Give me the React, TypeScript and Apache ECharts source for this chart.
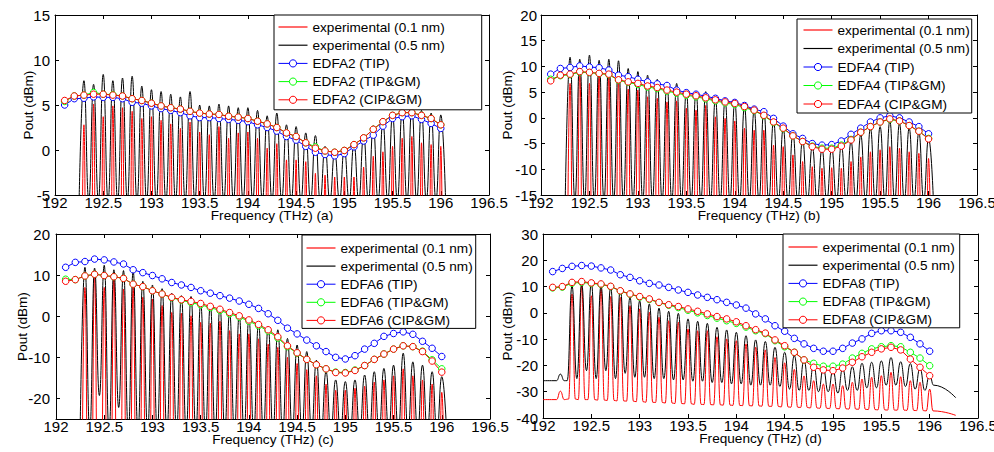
import React, { useEffect, useRef } from 'react';
import * as echarts from 'echarts';

const FONT = "'Liberation Sans', Arial, Helvetica, sans-serif";

// ---------- shared axes / categories ----------
const MODEL_FREQ = [
  192.1, 192.2, 192.3, 192.4, 192.5, 192.6, 192.7, 192.8, 192.9, 193.0,
  193.1, 193.2, 193.3, 193.4, 193.5, 193.6, 193.7, 193.8, 193.9, 194.0,
  194.1, 194.2, 194.3, 194.4, 194.5, 194.6, 194.7, 194.8, 194.9, 195.0,
  195.1, 195.2, 195.3, 195.4, 195.5, 195.6, 195.7, 195.8, 195.9, 196.0,
];
const CHANNEL_FREQ = MODEL_FREQ.slice(2); // 192.3 .. 196.0 (38 channels)
const X_MIN = 192;
const X_MAX = 196.5;
const X_STEP = 0.5;

const EXP01 = 'experimental (0.1 nm)';
const EXP05 = 'experimental (0.5 nm)';

// ---------- panel (a) EDFA2 ----------
const A_Y_TICKS = [-5, 0, 5, 10, 15];
const A_TIP = [5.0, 5.7, 5.75, 5.9, 5.85, 5.85, 5.7, 5.3, 5.2, 4.9, 4.6, 4.4, 4.15, 3.8, 3.6, 3.6, 3.5, 3.4, 3.3, 3.15, 2.8, 2.5, 2.1, 1.5, 1.1, 0.4, -0.25, -0.5, -0.65, -0.4, 0.35, 1.0, 1.65, 2.65, 3.5, 3.7, 3.8, 3.4, 2.95, 2.4];
const A_TIPGM = [5.4, 6.0, 6.1, 6.4, 6.2, 6.15, 6.0, 5.7, 5.5, 5.2, 4.9, 4.7, 4.55, 4.3, 4.1, 4.0, 3.95, 3.75, 3.65, 3.5, 3.2, 2.9, 2.5, 1.9, 1.5, 0.8, 0.35, -0.1, -0.25, -0.05, 0.6, 1.35, 2.3, 3.15, 3.85, 4.15, 4.15, 3.85, 3.5, 2.8];
const A_CIPGM = [5.5, 6.0, 6.1, 6.2, 6.2, 6.1, 6.0, 5.7, 5.5, 5.2, 4.9, 4.7, 4.55, 4.3, 4.1, 4.0, 3.95, 3.75, 3.65, 3.5, 3.2, 2.9, 2.5, 1.9, 1.5, 0.8, 0.2, -0.1, -0.25, -0.05, 0.6, 1.35, 2.3, 3.15, 3.85, 4.15, 4.15, 3.85, 3.5, 2.8];
const A_BLACK_PEAKS = [7.7, 7.3, 8.4, 7.7, 8.0, 8.2, 7.1, 6.7, 6.5, 6.2, 5.9, 6.5, 5.0, 4.9, 5.1, 4.9, 4.7, 4.7, 4.4, 3.8, 4.1, 2.8, 2.6, 1.9, 1.6, 0.4, -0.2, 0.2, 0.7, 1.7, 2.7, 3.1, 3.9, 4.4, 4.6, 4.4, 4.1, 3.9];
const A_BLACK_TROUGH = -5.6;
const A_RED_PEAKS = [2.8, 5.1, 3.7, 4.9, 4.7, 4.3, 3.5, 3.7, 3.3, 2.9, 2.4, 3.1, 2.0, 1.7, 2.6, 1.3, 1.9, 2.0, 1.3, 0.2, 0.7, -1.1, -1.1, -1.3, -2.6, -2.8, -3.0, -3.0, -3.0, -1.9, -0.7, -0.2, 0.4, 1.3, 1.5, 0.8, 0.6, 0.4];
const A_RED_FLOOR = -40;

// ---------- panel (b) EDFA4 ----------
const B_Y_TICKS = [-15, -10, -5, 0, 5, 10, 15, 20];
const B_TIP = [8.5, 9.6, 9.8, 10.1, 9.9, 9.75, 9.3, 8.3, 8.0, 7.5, 7.0, 6.6, 6.3, 5.4, 4.9, 4.6, 4.2, 3.8, 3.3, 3.0, 2.4, 1.7, 1.2, -0.1, -1.6, -3.1, -4.0, -5.0, -5.3, -5.2, -4.5, -3.2, -2.0, -0.8, 0.0, 0.4, 0.0, -0.8, -1.7, -3.1];
const B_TIPGM = [7.5, 8.2, 8.4, 8.9, 8.8, 8.6, 8.4, 7.3, 6.9, 6.5, 6.0, 5.7, 5.2, 4.8, 4.4, 4.1, 3.7, 3.3, 2.9, 2.6, 2.0, 1.4, 0.4, -0.9, -2.1, -3.5, -4.6, -5.5, -5.9, -5.9, -5.3, -4.2, -2.8, -1.7, -0.8, -0.3, -0.6, -1.5, -2.6, -4.0];
const B_CIPGM = [7.2, 8.3, 8.5, 9.0, 8.85, 8.65, 8.5, 7.4, 7.0, 6.7, 6.2, 5.9, 5.4, 5.0, 4.6, 4.3, 3.9, 3.5, 3.1, 2.8, 2.2, 1.5, 0.5, -0.8, -2.0, -3.5, -4.6, -5.6, -6.1, -6.1, -5.5, -4.3, -2.8, -1.7, -0.8, -0.2, -0.6, -1.5, -2.6, -4.1];
const B_BLACK_PEAKS = [11.8, 11.4, 12.2, 11.2, 11.4, 11.1, 9.6, 9.0, 8.3, 7.5, 6.9, 6.7, 5.2, 5.2, 5.1, 3.8, 3.5, 3.1, 2.2, 1.5, 1.5, -0.6, -2.0, -3.0, -4.3, -5.6, -6.1, -5.8, -5.3, -4.6, -3.3, -2.0, -1.7, -0.6, -1.1, -2.0, -2.8, -4.0];
const B_BLACK_TROUGH = -16;
const B_RED_PEAKS = [6.7, 9.3, 6.7, 9.0, 8.6, 7.0, 5.6, 5.4, 4.1, 3.8, 3.1, 3.3, 1.9, 1.5, 2.4, 0.2, -0.1, -0.6, -2.0, -2.4, -2.4, -5.3, -5.6, -7.2, -8.5, -9.5, -9.8, -9.7, -9.8, -8.5, -7.6, -6.6, -6.2, -5.6, -5.9, -6.6, -6.9, -7.9];
const B_RED_FLOOR = -48;

// ---------- panel (c) EDFA6 ----------
const C_Y_TICKS = [-20, -10, 0, 10, 20];
const C_TIP = [11.9, 13.1, 13.3, 13.9, 13.7, 13.2, 12.7, 11.3, 10.6, 9.9, 9.1, 8.2, 7.6, 7.0, 6.2, 5.6, 5.0, 4.4, 3.7, 2.9, 1.9, 0.6, -1.0, -2.9, -4.3, -5.8, -7.2, -8.6, -10.0, -10.4, -9.6, -8.0, -6.6, -4.9, -4.2, -3.8, -4.4, -6.1, -7.8, -9.8];
const C_TIPGM = [9.0, 8.9, 9.8, 10.2, 9.9, 9.6, 9.2, 7.8, 7.2, 6.2, 5.4, 4.5, 3.9, 3.3, 2.8, 2.1, 1.4, 0.6, -0.2, -1.2, -2.3, -3.6, -5.3, -7.4, -9.0, -10.5, -11.8, -12.8, -13.6, -13.7, -13.1, -12.0, -10.5, -9.2, -8.0, -7.2, -7.4, -8.5, -10.6, -12.8];
const C_CIPGM = [8.5, 8.9, 9.8, 10.2, 9.9, 9.6, 9.2, 7.8, 7.2, 6.2, 5.4, 4.6, 4.0, 3.6, 3.1, 2.4, 1.7, 0.9, 0.1, -0.9, -2.0, -3.3, -5.0, -7.2, -8.9, -10.5, -11.8, -12.8, -13.7, -13.8, -13.2, -12.0, -10.5, -9.2, -8.0, -7.2, -7.4, -8.6, -10.9, -13.6];
const C_BLACK_PEAKS = [11.9, 11.7, 12.4, 11.3, 11.1, 10.9, 8.5, 7.6, 6.7, 5.6, 5.0, 4.8, 3.2, 2.8, 2.4, 1.0, 0.3, -0.5, -1.7, -2.5, -3.3, -5.4, -7.0, -8.6, -10.7, -13.5, -15.5, -15.9, -15.5, -14.3, -13.5, -12.7, -11.9, -9.0, -11.1, -11.9, -13.5, -14.7];
const C_BLACK_TROUGHS = [-28, -19.3, -28, -22.2, -28, -28, -28, -28, -28, -28, -28, -28, -28, -28, -28, -28, -28, -28, -28, -28, -28, -28, -28, -28, -28, -28, -28, -28, -28, -28, -28, -28, -28, -28, -28, -28, -28];
const C_RED_PEAKS = [7.0, 10.4, 7.0, 9.9, 6.6, 7.0, 4.6, 4.2, 2.6, 0.9, 0.7, 0.1, -1.5, -1.7, -1.2, -3.5, -4.3, -4.3, -5.5, -6.8, -7.6, -10.0, -11.5, -13.0, -14.5, -16.5, -18.0, -18.0, -17.5, -17.0, -16.0, -15.5, -14.5, -12.8, -14.5, -15.5, -16.5, -18.5];
const C_RED_FLOOR = -55;

// ---------- panel (d) EDFA8 ----------
const D_Y_TICKS = [-40, -30, -20, -10, 0, 10, 20, 30];
const D_TIP = [15.7, 16.9, 17.7, 18.0, 17.8, 17.1, 16.3, 14.5, 13.5, 12.2, 11.2, 10.6, 9.7, 8.7, 7.8, 6.8, 5.9, 5.0, 4.0, 3.0, 1.8, -0.4, -2.3, -4.9, -7.0, -9.7, -11.8, -13.5, -14.6, -14.6, -13.5, -11.5, -9.9, -7.8, -6.8, -6.8, -7.4, -9.3, -11.8, -14.6];
const D_TIPGM = [9.5, 9.8, 11.3, 11.6, 11.2, 10.8, 10.0, 8.3, 7.1, 6.0, 5.1, 3.9, 2.9, 2.0, 1.0, 0.0, -1.0, -2.0, -3.0, -4.0, -5.4, -6.8, -7.9, -10.6, -12.9, -15.0, -17.9, -19.2, -20.3, -20.3, -19.5, -17.2, -15.4, -13.7, -12.9, -12.5, -12.9, -15.0, -17.2, -20.1];
const D_CIPGM = [9.7, 10.0, 11.6, 11.9, 11.4, 11.0, 10.1, 8.4, 7.2, 6.2, 5.3, 4.0, 3.1, 2.4, 1.5, 0.6, -0.4, -1.4, -2.3, -3.4, -4.9, -6.4, -7.7, -10.3, -12.5, -15.0, -17.9, -20.7, -21.7, -22.0, -21.0, -18.8, -16.7, -15.0, -13.7, -13.1, -14.1, -17.6, -20.7, -23.9];
const D_BLACK_PEAKS = [10.3, 11.0, 11.4, 10.3, 9.7, 9.1, 5.9, 4.6, 3.4, 1.8, 0.6, -0.2, -2.3, -3.2, -4.0, -5.5, -6.5, -7.4, -8.7, -10.3, -10.9, -13.1, -15.0, -16.3, -17.9, -19.5, -21.2, -21.8, -21.2, -20.5, -19.2, -18.8, -18.3, -17.0, -18.6, -19.3, -21.0, -23.5];
const D_BLACK_TROUGHS = [-25, -22, -25, -22, -25, -23, -24.5, -24.5, -25, -25, -25.5, -25.5, -26, -26, -26.5, -26.5, -27, -27, -27.5, -27.5, -27.5, -28, -29, -29.5, -29.5, -30, -30, -30.5, -29.5, -29.5, -28.5, -28.5, -27.5, -27.5, -28, -29, -29.5];
const D_BLACK_LEAD = [[192.0, -25.8], [192.14, -25.8], [192.18, -23.3], [192.22, -25.8], [192.25, -25.8]];
const D_BLACK_TAIL = [[196.04, -27.5], [196.27, -32.3]];
const D_RED_PEAKS = [7.2, 10.3, 6.5, 9.1, 6.2, 5.9, 2.7, 1.5, 0.2, -1.7, -3.0, -3.6, -6.1, -6.8, -6.8, -9.1, -9.9, -10.6, -11.8, -13.1, -14.1, -17.0, -19.0, -21.5, -24.0, -25.8, -27.1, -27.1, -27.7, -26.4, -25.2, -24.5, -23.9, -22.6, -24.3, -25.8, -26.4, -29.0];
const D_RED_FLOORS = [-32.8, -33.0, -33.0, -33.2, -33.3, -33.5, -33.6, -33.8, -34.0, -34.1, -34.3, -34.5, -34.6, -34.8, -34.9, -35.0, -35.1, -35.2, -35.3, -35.4, -35.5, -35.6, -35.8, -35.9, -36.0, -36.2, -36.3, -36.4, -36.5, -36.6, -36.7, -36.8, -36.9, -37.0, -37.0, -37.1, -37.2, -37.3];
const D_RED_LEAD = [[192.0, -33.0], [192.14, -33.0], [192.18, -29.8], [192.22, -33.0]];
const D_RED_TAIL = [[196.27, -39.0]];

// ---------- trace builders (shape of each comb line drawn from the arrays) ----------
const RED_HALF = 0.035;
const HALF_SPACING = 0.05;
const r3 = (v: number) => Math.round(v * 1000) / 1000;
const pick = (v: number | number[], i: number) => (typeof v === 'number' ? v : v[i]);

function blackTrace(peaks: number[], troughs: number | number[], lead?: number[][], tail?: number[][]) {
  const pts: number[][] = lead ? lead.map((p) => [...p]) : [[r3(CHANNEL_FREQ[0] - HALF_SPACING), pick(troughs, 0)]];
  CHANNEL_FREQ.forEach((f, i) => {
    pts.push([f, peaks[i]]);
    if (i < CHANNEL_FREQ.length - 1) pts.push([r3(f + HALF_SPACING), pick(troughs, i)]);
  });
  if (tail) tail.forEach((p) => pts.push([...p]));
  else pts.push([r3(CHANNEL_FREQ[CHANNEL_FREQ.length - 1] + HALF_SPACING), pick(troughs, 0)]);
  return pts;
}

function redTrace(peaks: number[], floors: number | number[], lead?: number[][], tail?: number[][]) {
  const pts: number[][] = lead ? lead.map((p) => [...p]) : [];
  CHANNEL_FREQ.forEach((f, i) => {
    const fl = pick(floors, i);
    pts.push([r3(f - RED_HALF), fl], [f, peaks[i]], [r3(f + RED_HALF), fl]);
  });
  if (tail) tail.forEach((p) => pts.push([...p]));
  return pts;
}

// ---------- layout (kept apart from data) ----------
type Panel = {
  box: { left: number; top: number; width: number; height: number };
  yMin: number; yMax: number; yTicks: number[];
  tag: string; edfa: string;
  tip: number[]; tipgm: number[]; cipgm: number[];
  black: number[][]; red: number[][];
  yNameGap: number; yLabelMargin: number;
  legend: { left: number; top: number; padding: number[]; gap: number };
};

const PANELS: Panel[] = [
  {
    box: { left: 55, top: 15, width: 434, height: 180 },
    yMin: -5, yMax: 15, yTicks: A_Y_TICKS, tag: '(a)', edfa: 'EDFA2',
    tip: A_TIP, tipgm: A_TIPGM, cipgm: A_CIPGM,
    black: blackTrace(A_BLACK_PEAKS, A_BLACK_TROUGH), red: redTrace(A_RED_PEAKS, A_RED_FLOOR),
    yNameGap: 20, yLabelMargin: 5,
    legend: { left: 274, top: 15, padding: [5, 37, 3, 4], gap: 4.2 },
  },
  {
    box: { left: 541, top: 15, width: 436, height: 180 },
    yMin: -15, yMax: 20, yTicks: B_Y_TICKS, tag: '(b)', edfa: 'EDFA4',
    tip: B_TIP, tipgm: B_TIPGM, cipgm: B_CIPGM,
    black: blackTrace(B_BLACK_PEAKS, B_BLACK_TROUGH), red: redTrace(B_RED_PEAKS, B_RED_FLOOR),
    yNameGap: 27, yLabelMargin: 4,
    legend: { left: 797, top: 19, padding: [4, 2, 2, 6], gap: 4.5 },
  },
  {
    box: { left: 56, top: 234, width: 434, height: 185 },
    yMin: -25, yMax: 20, yTicks: C_Y_TICKS, tag: '(c)', edfa: 'EDFA6',
    tip: C_TIP, tipgm: C_TIPGM, cipgm: C_CIPGM,
    black: blackTrace(C_BLACK_PEAKS, C_BLACK_TROUGHS), red: redTrace(C_RED_PEAKS, C_RED_FLOOR),
    yNameGap: 27, yLabelMargin: 6,
    legend: { left: 302, top: 235, padding: [6, 3, 1, 4], gap: 4.1 },
  },
  {
    box: { left: 543, top: 234, width: 435, height: 184 },
    yMin: -40, yMax: 30, yTicks: D_Y_TICKS, tag: '(d)', edfa: 'EDFA8',
    tip: D_TIP, tipgm: D_TIPGM, cipgm: D_CIPGM,
    black: blackTrace(D_BLACK_PEAKS, D_BLACK_TROUGHS, D_BLACK_LEAD, D_BLACK_TAIL),
    red: redTrace(D_RED_PEAKS, D_RED_FLOORS, D_RED_LEAD, D_RED_TAIL),
    yNameGap: 29, yLabelMargin: 5,
    legend: { left: 783, top: 234, padding: [6, 5, 1, 5], gap: 4.2 },
  },
];

const AXIS_COLOR = '#000';
const TICK_FONT = 15;
const NAME_FONT = 13.6;
const LEGEND_FONT = 13.6;
const LINE_ICON = 'path://M0,0H30V1.2H0Z';
const C_BLUE = '#0000ff';
const C_GREEN = '#00ff00';
const C_RED = '#ff0000';

const axisLine = { show: true, onZero: false, lineStyle: { color: AXIS_COLOR, width: 1 } };
const axisTick = { show: true, inside: true, length: 4, lineStyle: { color: AXIS_COLOR, width: 1 } };

function xAxes(p: Panel, i: number) {
  const common = { type: 'value', gridIndex: i, min: X_MIN, max: X_MAX, interval: X_STEP, splitLine: { show: false }, axisLine, axisTick };
  return [
    {
      ...common, position: 'bottom',
      axisLabel: { show: true, margin: 0, color: '#000', fontSize: TICK_FONT, fontFamily: FONT },
      name: `Frequency (THz) ${p.tag}`, nameLocation: 'middle', nameGap: 13, nameMoveOverlap: false,
      nameTextStyle: { color: '#000', fontSize: NAME_FONT, fontFamily: FONT },
    },
    { ...common, position: 'top', axisLabel: { show: false } },
  ];
}

function yAxes(p: Panel, i: number) {
  const common: any = { type: 'value', gridIndex: i, min: p.yMin, max: p.yMax, splitLine: { show: false }, axisLine };
  const usesCustom = p.yTicks[0] !== p.yMin;
  const step = p.yTicks[1] - p.yTicks[0];
  if (!usesCustom) common.interval = step;
  const tick = usesCustom ? { ...axisTick, customValues: p.yTicks } : axisTick;
  return [
    {
      ...common, position: 'left', axisTick: tick,
      axisLabel: { show: true, margin: p.yLabelMargin, color: '#000', fontSize: TICK_FONT, fontFamily: FONT, ...(usesCustom ? { customValues: p.yTicks } : {}) },
      name: 'Pout (dBm)', nameLocation: 'middle', nameGap: p.yNameGap, nameMoveOverlap: false,
      nameTextStyle: { color: '#000', fontSize: NAME_FONT, fontFamily: FONT },
    },
    { ...common, position: 'right', axisTick: tick, axisLabel: { show: false } },
  ];
}

function seriesFor(p: Panel, i: number) {
  const base = { type: 'line', xAxisIndex: 2 * i, yAxisIndex: 2 * i, clip: true, emphasis: { disabled: true }, silent: true };
  const comb = (name: string, color: string, data: number[][]) => ({
    ...base, name, data, color, symbol: 'none', showSymbol: false,
    smooth: 0.5, smoothMonotone: 'x',
    lineStyle: { color, width: 1 },
  });
  const model = (name: string, color: string, vals: number[]) => ({
    ...base, name, data: MODEL_FREQ.map((f, k) => [f, vals[k]]),
    symbol: 'circle', symbolSize: 6.5, showSymbol: true,
    itemStyle: { color: '#ffffff', borderColor: color, borderWidth: 1 },
    lineStyle: { color, width: 1 },
  });
  return [
    comb(EXP01, C_RED, p.red),
    comb(EXP05, '#000000', p.black),
    model(`${p.edfa} (TIP)`, C_BLUE, p.tip),
    model(`${p.edfa} (TIP&GM)`, C_GREEN, p.tipgm),
    model(`${p.edfa} (CIP&GM)`, C_RED, p.cipgm),
  ];
}

function legendFor(p: Panel) {
  return {
    show: true, orient: 'vertical', left: p.legend.left, top: p.legend.top,
    padding: p.legend.padding, itemGap: p.legend.gap, itemWidth: 29, itemHeight: 9,
    borderColor: '#000', borderWidth: 1, backgroundColor: '#ffffff', selectedMode: false,
    itemStyle: { borderWidth: 1 },
    lineStyle: { width: 1 },
    textStyle: { color: '#000', fontSize: LEGEND_FONT, fontFamily: FONT },
    data: [
      { name: EXP01, icon: LINE_ICON, itemStyle: { color: C_RED, borderColor: C_RED, borderWidth: 0 } },
      { name: EXP05, icon: LINE_ICON, itemStyle: { color: '#000000', borderColor: '#000000', borderWidth: 0 } },
      `${p.edfa} (TIP)`, `${p.edfa} (TIP&GM)`, `${p.edfa} (CIP&GM)`,
    ],
  };
}

function buildOption() {
  return {
    animation: false,
    backgroundColor: '#ffffff',
    textStyle: { fontFamily: FONT },
    grid: PANELS.map((p) => ({ ...p.box, containLabel: false, outerBoundsMode: 'none', show: false })),
    xAxis: PANELS.flatMap((p, i) => xAxes(p, i)),
    yAxis: PANELS.flatMap((p, i) => yAxes(p, i)),
    legend: PANELS.map((p) => legendFor(p)),
    series: PANELS.flatMap((p, i) => seriesFor(p, i)),
  };
}

export default function App() {
  const ref = useRef<HTMLDivElement>(null);
  useEffect(() => {
    if (!ref.current) return;
    const chart = echarts.init(ref.current, undefined, { renderer: 'svg' });
    chart.setOption(buildOption() as any);
    return () => chart.dispose();
  }, []);
  return (
    <div
      ref={ref}
      style={{ position: 'absolute', left: 0, top: 0, width: 994, height: 452, background: '#fff' }}
    />
  );
}
